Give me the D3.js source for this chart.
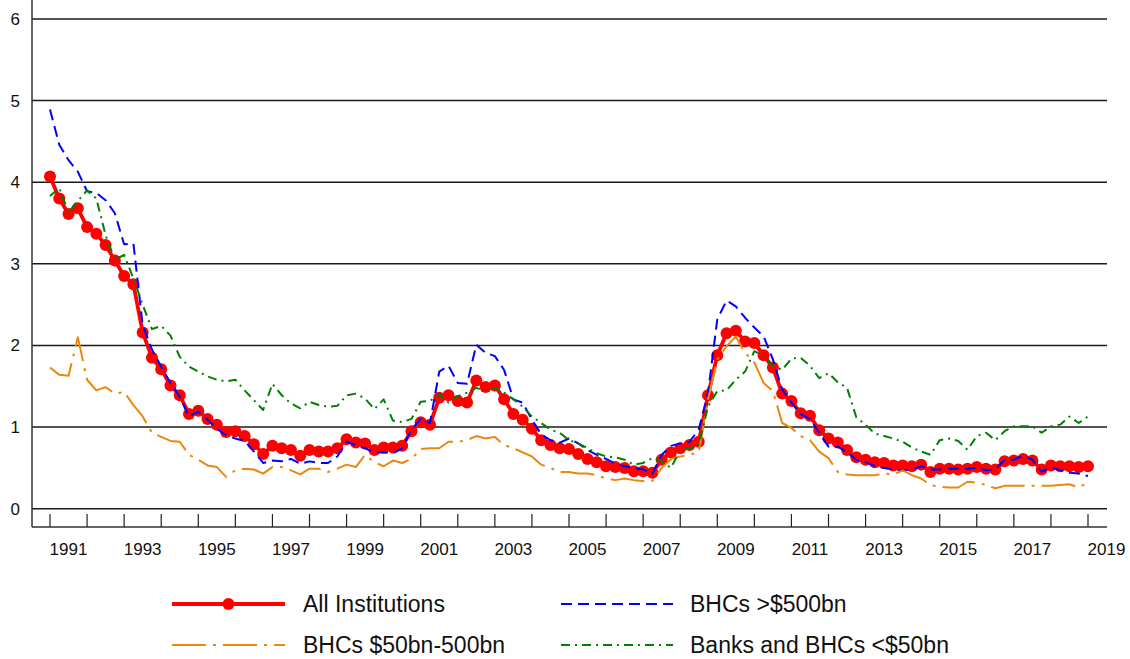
<!DOCTYPE html>
<html>
<head>
<meta charset="utf-8">
<script src="https://cdn.jsdelivr.net/npm/d3@7"></script>
<style>
  html, body { margin: 0; padding: 0; background: #fff; }
  svg { display: block; font-family: "Liberation Sans", Arial, sans-serif; }
</style>
</head>
<body>
<svg id="chart" width="1130" height="659"></svg>
<script>
// quarterly series, first point = 1991 Q1
const startYear = 1991;

const allInstitutions = [
  4.07, 3.80, 3.61, 3.68, 3.45, 3.37, 3.23, 3.04, 2.85, 2.75,
  2.16, 1.85, 1.71, 1.51, 1.39, 1.16, 1.20, 1.10, 1.03, 0.94,
  0.95, 0.89, 0.79, 0.67, 0.77, 0.74, 0.72, 0.65, 0.72, 0.70,
  0.70, 0.74, 0.85, 0.81, 0.80, 0.72, 0.75, 0.75, 0.77, 0.95,
  1.06, 1.03, 1.36, 1.39, 1.32, 1.30, 1.57, 1.49, 1.51, 1.34,
  1.16, 1.09, 0.98, 0.84, 0.78, 0.74, 0.73, 0.67, 0.61, 0.57,
  0.52, 0.51, 0.50, 0.46, 0.46, 0.44, 0.60, 0.69, 0.74, 0.78,
  0.82, 1.39, 1.88, 2.15, 2.18, 2.05, 2.03, 1.88, 1.73, 1.41,
  1.32, 1.17, 1.14, 0.96, 0.86, 0.81, 0.72, 0.63, 0.60, 0.57,
  0.56, 0.53, 0.53, 0.52, 0.54, 0.45, 0.49, 0.49, 0.48, 0.49,
  0.51, 0.49, 0.48, 0.58, 0.59, 0.61, 0.59, 0.48, 0.53, 0.52,
  0.52, 0.51, 0.52
];

const bhcsOver500 = [
  4.89, 4.46, 4.27, 4.13, 3.89, 3.87, 3.78, 3.62, 3.24, 3.25,
  2.25, 1.95, 1.74, 1.54, 1.37, 1.13, 1.19, 1.09, 0.98, 0.90,
  0.86, 0.83, 0.70, 0.56, 0.59, 0.58, 0.61, 0.55, 0.58, 0.56,
  0.56, 0.64, 0.82, 0.78, 0.74, 0.69, 0.69, 0.68, 0.74, 0.97,
  1.10, 1.05, 1.68, 1.75, 1.54, 1.53, 2.01, 1.91, 1.87, 1.70,
  1.34, 1.30, 1.09, 0.91, 0.84, 0.81, 0.86, 0.80, 0.72, 0.66,
  0.61, 0.55, 0.52, 0.50, 0.48, 0.43, 0.66, 0.77, 0.80, 0.82,
  0.97, 1.42, 2.32, 2.55, 2.48, 2.34, 2.22, 2.11, 1.83, 1.46,
  1.30, 1.16, 1.10, 0.93, 0.76, 0.76, 0.69, 0.60, 0.57, 0.52,
  0.50, 0.48, 0.47, 0.48, 0.52, 0.48, 0.48, 0.49, 0.49, 0.49,
  0.50, 0.47, 0.48, 0.60, 0.60, 0.65, 0.60, 0.45, 0.51, 0.47,
  0.44, 0.43, 0.40
];

const bhcs50to500 = [
  1.73, 1.64, 1.63, 2.10, 1.58, 1.45, 1.49, 1.41, 1.43, 1.27,
  1.13, 0.93, 0.88, 0.83, 0.82, 0.66, 0.60, 0.53, 0.51, 0.39,
  0.47, 0.49, 0.48, 0.43, 0.51, 0.51, 0.47, 0.42, 0.49, 0.49,
  0.45, 0.49, 0.54, 0.51, 0.66, 0.57, 0.52, 0.59, 0.56, 0.61,
  0.73, 0.74, 0.74, 0.82, 0.82, 0.84, 0.89, 0.86, 0.88, 0.78,
  0.74, 0.69, 0.64, 0.54, 0.50, 0.45, 0.45, 0.43, 0.43, 0.41,
  0.37, 0.35, 0.37, 0.35, 0.34, 0.34, 0.50, 0.61, 0.64, 0.66,
  0.69, 1.34, 1.83, 1.99, 2.11, 1.91, 1.79, 1.54, 1.44, 1.05,
  0.99, 0.89, 0.84, 0.70, 0.62, 0.45, 0.42, 0.41, 0.41, 0.41,
  0.43, 0.42, 0.47, 0.41, 0.37, 0.29, 0.27, 0.26, 0.26, 0.33,
  0.32, 0.29, 0.25, 0.28, 0.28, 0.28, 0.28, 0.28, 0.28, 0.29,
  0.30, 0.26, 0.32
];

const banksUnder50 = [
  3.83, 3.93, 3.63, 3.77, 3.90, 3.80, 3.35, 3.05, 3.11, 2.82,
  2.50, 2.20, 2.24, 2.12, 1.86, 1.74, 1.68, 1.62, 1.58, 1.56,
  1.58, 1.45, 1.33, 1.21, 1.53, 1.39, 1.29, 1.23, 1.31, 1.27,
  1.25, 1.26, 1.39, 1.41, 1.35, 1.22, 1.34, 1.08, 1.06, 1.10,
  1.31, 1.32, 1.40, 1.30, 1.38, 1.42, 1.48, 1.44, 1.48, 1.42,
  1.34, 1.25, 1.13, 1.05, 0.97, 0.93, 0.84, 0.80, 0.74, 0.68,
  0.64, 0.63, 0.60, 0.54, 0.56, 0.62, 0.58, 0.50, 0.72, 0.74,
  0.78, 1.25, 1.44, 1.45, 1.58, 1.68, 1.93, 1.87, 1.75, 1.70,
  1.84, 1.85, 1.75, 1.60, 1.66, 1.55, 1.48, 1.12, 1.03, 0.92,
  0.89, 0.86, 0.82, 0.75, 0.70, 0.66, 0.84, 0.86, 0.83, 0.72,
  0.89, 0.93, 0.84, 0.95, 1.01, 1.01, 1.01, 0.93, 1.01, 1.03,
  1.13, 1.05, 1.13
];

const yTicks = [0, 1, 2, 3, 4, 5, 6];
const tickYears = d3.range(1991, 2020);
const labelYears = d3.range(1991, 2020, 2);

const seriesNames = ['All Institutions', 'BHCs >$500bn', 'BHCs $50bn-500bn', 'Banks and BHCs <$50bn'];

// drawing order: red underneath, the others on top
const series = [
  { name: seriesNames[0], values: allInstitutions, color: '#ff0000', width: 3.8, dash: null, dots: true },
  { name: seriesNames[1], values: bhcsOver500, color: '#0000ff', width: 2, dash: '11,6', dots: false },
  { name: seriesNames[2], values: bhcs50to500, color: '#e8890c', width: 2, dash: '34,7,3,7', dots: false },
  { name: seriesNames[3], values: banksUnder50, color: '#008000', width: 2, dash: '9,5,2,5', dots: false }
];

const svg = d3.select('#chart');

const axisX = 32, axisRight = 1107, axisBottom = 527;
const x = d3.scaleLinear().domain([1991, 2019]).range([50, 1088]);
const y = d3.scaleLinear().domain([0, 6]).range([508.7, 19]);

const tOf = i => startYear + i / 4;

// grid lines
svg.append('g').selectAll('line')
  .data(yTicks).join('line')
  .attr('x1', axisX).attr('x2', axisRight)
  .attr('y1', d => y(d)).attr('y2', d => y(d))
  .attr('stroke', '#1a1a1a').attr('stroke-width', 1.5);

// y labels
svg.append('g').selectAll('text')
  .data(yTicks).join('text')
  .attr('x', 20).attr('y', d => y(d)).attr('dy', '0.35em')
  .attr('text-anchor', 'end')
  .attr('font-size', 17).attr('fill', '#111')
  .text(d => d);

// frame: left axis + bottom axis
svg.append('line')
  .attr('x1', axisX).attr('x2', axisX).attr('y1', 0).attr('y2', axisBottom)
  .attr('stroke', '#333').attr('stroke-width', 1.5);
svg.append('line')
  .attr('x1', axisX).attr('x2', axisRight).attr('y1', axisBottom).attr('y2', axisBottom)
  .attr('stroke', '#333').attr('stroke-width', 1.5);

// year ticks
svg.append('g').selectAll('line')
  .data(tickYears).join('line')
  .attr('x1', d => x(d)).attr('x2', d => x(d))
  .attr('y1', 514).attr('y2', axisBottom)
  .attr('stroke', '#222').attr('stroke-width', 1.2);

// year labels, centred within their year
svg.append('g').selectAll('text')
  .data(labelYears).join('text')
  .attr('x', d => x(d + 0.5)).attr('y', 555)
  .attr('text-anchor', 'middle')
  .attr('font-size', 17).attr('fill', '#111')
  .text(d => d);

const line = d3.line()
  .x((d, i) => x(tOf(i)))
  .y(d => y(d));

series.forEach(s => {
  const g = svg.append('g');
  g.append('path')
    .attr('d', line(s.values))
    .attr('fill', 'none')
    .attr('stroke', s.color)
    .attr('stroke-width', s.width)
    .attr('stroke-linejoin', 'round')
    .attr('stroke-dasharray', s.dash);
  if (s.dots) {
    g.selectAll('circle')
      .data(s.values).join('circle')
      .attr('cx', (d, i) => x(tOf(i)))
      .attr('cy', d => y(d))
      .attr('r', 6)
      .attr('fill', s.color);
  }
});

// legend, 2 x 2
const legendPos = [
  { x0: 172, x1: 285, tx: 303, y: 604 },
  { x0: 561, x1: 673, tx: 690, y: 604 },
  { x0: 172, x1: 285, tx: 303, y: 645 },
  { x0: 561, x1: 673, tx: 690, y: 645 }
];

series.forEach((s, k) => {
  const p = legendPos[k];
  const g = svg.append('g');
  g.append('line')
    .attr('x1', p.x0).attr('x2', p.x1).attr('y1', p.y).attr('y2', p.y)
    .attr('stroke', s.color)
    .attr('stroke-width', s.width)
    .attr('stroke-dasharray', s.dash);
  if (s.dots) {
    g.append('circle')
      .attr('cx', (p.x0 + p.x1) / 2).attr('cy', p.y).attr('r', 6)
      .attr('fill', s.color);
  }
  g.append('text')
    .attr('x', p.tx).attr('y', p.y).attr('dy', '0.35em')
    .attr('font-size', 23).attr('fill', '#111')
    .text(s.name);
});
</script>
</body>
</html>
